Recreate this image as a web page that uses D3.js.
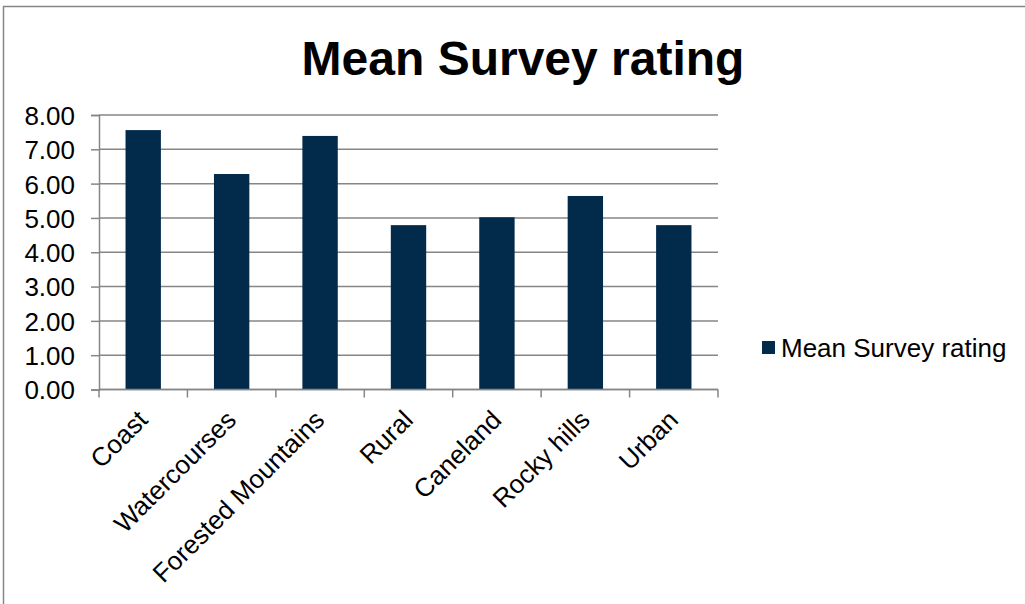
<!DOCTYPE html>
<html>
<head>
<meta charset="utf-8">
<script src="https://cdn.jsdelivr.net/npm/d3@7"></script>
<style>
  body { margin: 0; background: #fff; }
  svg text { font-family: "Liberation Sans", Arial, sans-serif; fill: #000; }
</style>
</head>
<body>
<script>
// chart data
var categories = ["Coast", "Watercourses", "Forested Mountains", "Rural", "Caneland", "Rocky hills", "Urban"];
var ratings = [7.56, 6.28, 7.39, 4.79, 5.02, 5.64, 4.79];
var yTicks = [0, 1, 2, 3, 4, 5, 6, 7, 8];
var seriesName = "Mean Survey rating";

var width = 1025, height = 604;
var plot = {left: 99, right: 718, top: 115, bottom: 389.5};
var barColor = "#022a4b", axisColor = "#868686";
var labelSize = "26px";

var svg = d3.select("body").append("svg")
    .attr("width", width)
    .attr("height", height);

// outer chart frame
svg.append("rect")
    .attr("x", 3.5).attr("y", 6.5)
    .attr("width", 1040).attr("height", 620)
    .attr("fill", "none")
    .attr("stroke", axisColor)
    .attr("stroke-width", 1.5);

// title
svg.append("text")
    .attr("x", 523).attr("y", 75)
    .attr("text-anchor", "middle")
    .style("font-size", "48px")
    .style("font-weight", "bold")
    .text(seriesName);

// scales
var x = d3.scaleBand()
    .domain(categories)
    .range([plot.left, plot.right])
    .paddingInner(0.6)
    .paddingOuter(0.3);

var xBand = d3.scaleBand()
    .domain(categories)
    .range([plot.left, plot.right]);

var y = d3.scaleLinear()
    .domain([0, 8])
    .range([plot.bottom, plot.top]);

// gridlines
svg.append("g")
    .selectAll("line")
    .data(yTicks)
    .enter()
    .append("line")
    .attr("x1", plot.left).attr("x2", plot.right)
    .attr("y1", function(d){ return y(d); })
    .attr("y2", function(d){ return y(d); })
    .attr("stroke", axisColor)
    .attr("stroke-width", 1.5);

// bars
svg.append("g")
    .selectAll("rect")
    .data(ratings)
    .enter()
    .append("rect")
    .attr("x", function(d, i){ return x(categories[i]); })
    .attr("width", x.bandwidth())
    .attr("y", function(d){ return y(d); })
    .attr("height", function(d){ return y(0) - y(d); })
    .attr("fill", barColor);

// y axis
var yAxis = svg.append("g")
    .attr("transform", "translate(" + plot.left + ",0)")
    .call(d3.axisLeft(y)
        .tickValues(yTicks)
        .tickFormat(d3.format(".2f"))
        .tickSize(8)
        .tickPadding(16));
yAxis.selectAll("text")
    .style("font-size", labelSize)
    .style("font-family", "'Liberation Sans', Arial, sans-serif")
    .attr("fill", "#000")
    .attr("dy", "0.36em");
yAxis.select(".domain").attr("stroke", axisColor).attr("stroke-width", 1.5);
yAxis.selectAll(".tick line").attr("stroke", axisColor).attr("stroke-width", 1.5);

// x axis, ticks at band edges
var xAxis = svg.append("g")
    .attr("transform", "translate(0," + plot.bottom + ")");
xAxis.append("line")
    .attr("x1", plot.left).attr("x2", plot.right)
    .attr("stroke", axisColor).attr("stroke-width", 1.5);
var edges = categories.map(function(c){ return xBand(c); }).concat([plot.right]);
xAxis.selectAll(".xtick")
    .data(edges)
    .enter()
    .append("line")
    .attr("class", "xtick")
    .attr("x1", function(d){ return d; }).attr("x2", function(d){ return d; })
    .attr("y1", 0).attr("y2", 8)
    .attr("stroke", axisColor).attr("stroke-width", 1.5);
xAxis.selectAll(".xlabel")
    .data(categories)
    .enter()
    .append("text")
    .attr("class", "xlabel")
    .attr("text-anchor", "end")
    .attr("transform", function(d){
        return "translate(" + (xBand(d) + xBand.bandwidth() / 2 + 6) + ",32) rotate(-45)";
    })
    .style("font-size", labelSize)
    .text(function(d){ return d; });

// legend
var legend = svg.append("g").attr("transform", "translate(762,341)");
legend.append("rect")
    .attr("width", 13).attr("height", 13)
    .attr("fill", barColor);
legend.append("text")
    .attr("x", 19).attr("y", 16)
    .style("font-size", labelSize)
    .text(seriesName);
</script>
</body>
</html>
